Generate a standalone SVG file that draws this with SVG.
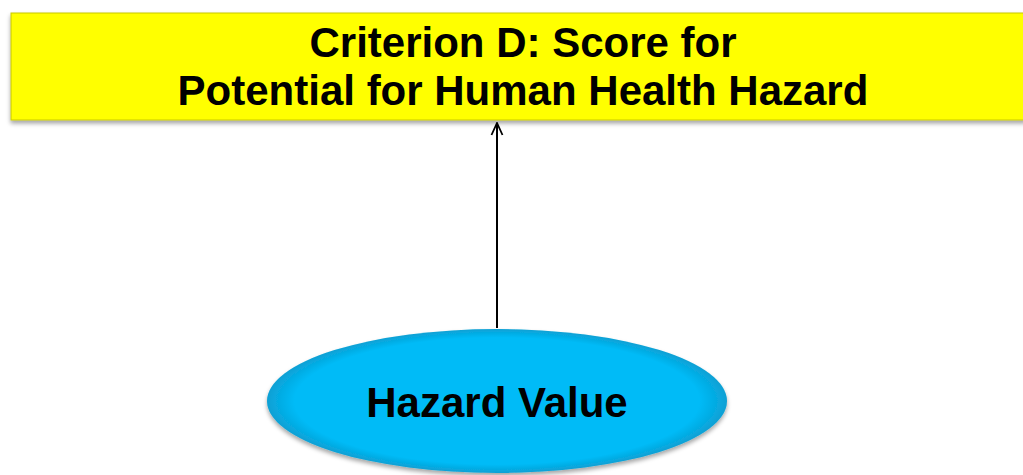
<svg xmlns="http://www.w3.org/2000/svg" width="1023" height="475" viewBox="0 0 1023 475">
<defs>
<style>
.t{font-family:"Liberation Sans",Arial,sans-serif;font-weight:bold;font-size:42px;fill:#000;text-anchor:middle}
</style>
<filter id="sh" x="-5%" y="-10%" width="110%" height="130%">
<feDropShadow dx="0" dy="3" stdDeviation="2" flood-color="#000" flood-opacity="0.35"/>
</filter>
<radialGradient id="eg" cx="50%" cy="50%" r="50%">
<stop offset="0.88" stop-color="#00BBF7"/>
<stop offset="1" stop-color="#0AA0D4"/>
</radialGradient>
<marker id="ah" viewBox="0 0 14 14" refX="13" refY="7" markerWidth="14" markerHeight="14" markerUnits="userSpaceOnUse" orient="auto">
<path d="M1,1.5 L13,7 L1,12.5" fill="none" stroke="#000" stroke-width="1.8"/>
</marker>
</defs>
<rect width="1023" height="475" fill="#fff"/>
<g id="connectors">
<line x1="497" y1="328" x2="497" y2="123" stroke="#000" stroke-width="2" marker-end="url(#ah)"/>
</g>
<g id="criterion">
<rect x="11" y="13" width="1015" height="107" fill="#FFFF00" stroke="#C8C800" stroke-width="1" filter="url(#sh)"/>
<text class="t" x="523" y="57">Criterion D: Score for</text>
<text class="t" x="523" y="105">Potential for Human Health Hazard</text>
</g>
<g id="hazard">
<ellipse cx="497" cy="401" rx="230" ry="72" fill="url(#eg)" filter="url(#sh)"/>
<text class="t" x="497" y="417">Hazard Value</text>
</g>
</svg>
